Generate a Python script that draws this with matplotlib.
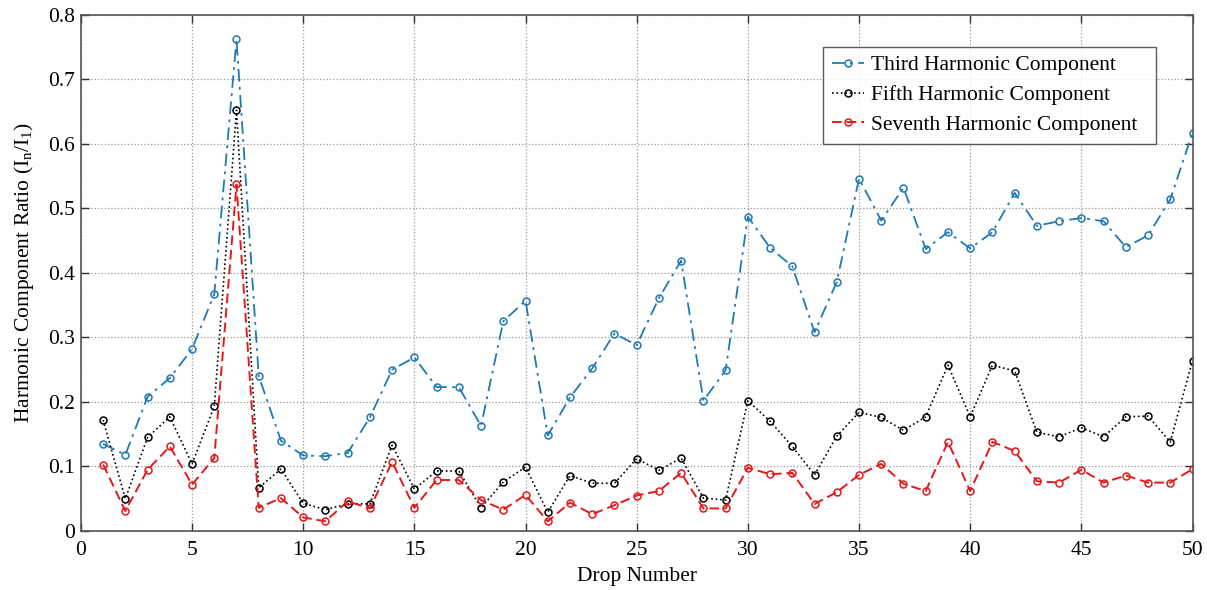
import matplotlib
matplotlib.use("Agg")
import matplotlib.pyplot as plt
import numpy as np

drops = list(range(1, 51))
third = [0.135, 0.118, 0.208, 0.237, 0.282, 0.367, 0.762, 0.240, 0.140, 0.117,
         0.116, 0.121, 0.176, 0.250, 0.269, 0.223, 0.223, 0.163, 0.325, 0.357,
         0.148, 0.207, 0.252, 0.306, 0.288, 0.361, 0.419, 0.202, 0.249, 0.487,
         0.439, 0.410, 0.308, 0.386, 0.546, 0.481, 0.532, 0.437, 0.463, 0.438,
         0.463, 0.524, 0.473, 0.480, 0.485, 0.480, 0.440, 0.458, 0.514, 0.617]
fifth = [0.172, 0.050, 0.145, 0.177, 0.104, 0.193, 0.652, 0.067, 0.096, 0.043,
         0.033, 0.042, 0.042, 0.133, 0.065, 0.093, 0.093, 0.036, 0.076, 0.099,
         0.029, 0.086, 0.074, 0.074, 0.112, 0.094, 0.113, 0.051, 0.048, 0.202,
         0.170, 0.131, 0.087, 0.147, 0.184, 0.176, 0.156, 0.177, 0.257, 0.177,
         0.257, 0.248, 0.153, 0.146, 0.160, 0.146, 0.177, 0.178, 0.138, 0.264]
seventh = [0.103, 0.031, 0.095, 0.131, 0.072, 0.113, 0.537, 0.036, 0.051, 0.021,
           0.015, 0.046, 0.035, 0.107, 0.036, 0.079, 0.079, 0.048, 0.033, 0.056,
           0.015, 0.044, 0.026, 0.040, 0.055, 0.062, 0.090, 0.035, 0.035, 0.098,
           0.088, 0.090, 0.042, 0.060, 0.087, 0.104, 0.073, 0.062, 0.138, 0.062,
           0.138, 0.124, 0.077, 0.075, 0.095, 0.075, 0.086, 0.075, 0.075, 0.096]

labels = ["Third Harmonic Component", "Fifth Harmonic Component",
          "Seventh Harmonic Component"]

plt.rcParams['font.family'] = ['Liberation Serif', 'DejaVu Serif']
plt.rcParams['mathtext.fontset'] = 'custom'
plt.rcParams['mathtext.rm'] = 'Liberation Serif'
plt.rcParams['mathtext.it'] = 'Liberation Serif'

fig = plt.figure(figsize=(12.07, 5.9), dpi=100)
ax = fig.add_axes([0.067, 0.1, 0.921, 0.875])

ax.plot(drops, third, color='#1f7ab4', linestyle=(0, (7, 3, 1.5, 3)), linewidth=1.3,
        marker='o', markersize=5, markerfacecolor='none', markeredgewidth=1.1,
        label=labels[0])
ax.plot(drops, fifth, color='black', linestyle=':', linewidth=1.2,
        marker='o', markersize=5, markerfacecolor='none', markeredgewidth=1.1,
        label=labels[1])
ax.plot(drops, seventh, color='#e3191c', linestyle=(0, (5, 2.5)), linewidth=1.4,
        marker='o', markersize=5, markerfacecolor='none', markeredgewidth=1.1,
        label=labels[2])

ax.set_xlim(0, 50)
ax.set_ylim(0, 0.8)
ax.set_xticks(np.arange(0, 51, 5))
ax.set_yticks(np.arange(0, 0.81, 0.1))
ax.set_yticklabels(['0'] + ['%.1f' % v for v in np.arange(0.1, 0.81, 0.1)])
ax.tick_params(direction='in', top=True, right=True, length=6, width=1,
               labelsize=15.5, colors='#333333', labelcolor='black')
ax.tick_params(axis='x', pad=7)
ax.tick_params(axis='y', pad=4)
ax.grid(True, linestyle=':', color='#999999', linewidth=0.9)
for s in ax.spines.values():
    s.set_color('#555555')
    s.set_linewidth(1.2)

ax.set_xlabel('Drop Number', fontsize=15.5, labelpad=5)
ax.set_ylabel(r'Harmonic Component Ratio (I$_\mathrm{n}$/I$_\mathrm{1}$)',
              fontsize=15.5, labelpad=9)

leg = ax.legend([l for l in ax.get_lines()], [t + "  " for t in labels],
                loc='upper right', bbox_to_anchor=(0.9676, 0.938), fontsize=15.5,
                frameon=True, fancybox=False, edgecolor='#333333',
                handlelength=1.5, handletextpad=0.3, borderpad=0.4,
                labelspacing=0.45, borderaxespad=0)
leg.get_frame().set_linewidth(1.0)

fig.savefig('out.png', dpi=100)
